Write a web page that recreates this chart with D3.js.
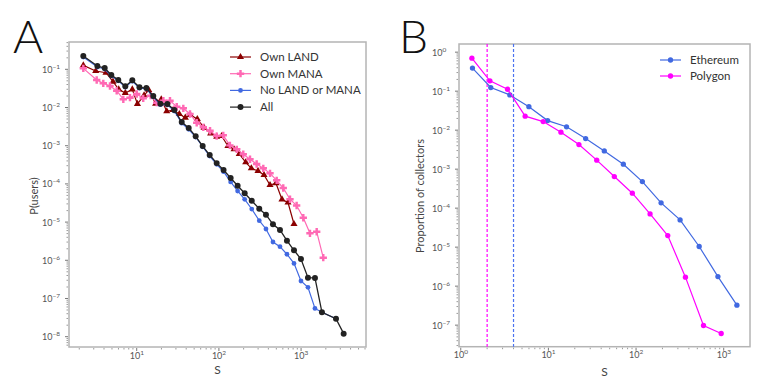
<!DOCTYPE html>
<meta charset="utf-8">
<style>
body {
  margin: 0;
  background: #fff;
  font-family: Lato, "Open Sans", sans-serif;
}
.frame {
  fill: none;
  stroke: #b4b4b4;
  stroke-width: 1.5px;
}
.lbl {
  fill: #555;
  font-size: 9px;
}
.legend text {
  fill: #333;
  font-size: 11.5px;
}
</style>
<body>
<script src="https://d3js.org/d3.v7.min.js"></script>
<script>

var width = 761,
    height = 382;

// panel A
var landS = [2.24,3.17,4.23,5.15,6.04,7.27,8.84,10.2,12.3,14.0,17.0,19.9,23.2,27.7,33.0,39.0,44.9,54.6,65.9,79.4,94.0,108,129,153,177,212,248,299,354,419,495,586,693,820];
var landP = [0.127,0.0902,0.0815,0.0473,0.0299,0.0240,0.0299,0.0124,0.0209,0.0287,0.01257,0.0164,0.00796,0.0086,0.00676,0.0054,0.00637,0.0050,0.00296,0.00211,0.00172,0.00179,9.8e-4,8.05e-4,6.07e-4,3.68e-4,2.56e-4,2.18e-4,1.71e-4,9.35e-5,1.04e-4,3.91e-5,3.26e-5,8.9e-6];

var manaS = [2.24,3.26,3.92,4.73,5.71,6.87,8.28,10.0,12.0,14.8,17.5,21.1,25.4,30.7,36.9,44.5,53.7,64.6,78.0,94.0,113,136,165,198,239,288,347,419,505,607,733,883,1064,1283,1549,1862];
var manaP = [0.106,0.0525,0.0430,0.0366,0.0275,0.0164,0.0181,0.0226,0.0174,0.0204,0.0134,0.0151,0.0151,0.0105,0.00953,0.00676,0.0040,0.00303,0.00247,0.00179,0.00187,0.00102,8.05e-4,5.96e-4,4.41e-4,3.32e-4,2.56e-4,1.89e-4,1.24e-4,7.8e-5,3.97e-5,2.72e-5,1.30e-5,5.09e-6,5.6e-6,1.17e-6];

var allS = [2.24,3.32,4.08,4.91,5.97,7.27,8.84,10.8,13.1,15.9,19.4,23.6,28.7,35.3,42.9,52.2,63.5,77.3,94.0,114,139,169,206,251,310,374,455,554,673,820,997,1213,1476,1795,2660,3298];
var allP = [0.223,0.122,0.108,0.0710,0.0525,0.0359,0.0515,0.0338,0.0324,0.0200,0.01257,0.01235,0.00860,0.00417,0.00290,0.00176,9.8e-4,5.7e-4,3.5e-4,2.31e-4,1.43e-4,8.97e-5,5.68e-5,3.63e-5,2.24e-5,1.56e-5,8.75e-6,6.21e-6,3.26e-6,1.83e-6,1.08e-6,3.5e-7,3.46e-7,4.35e-8,2.96e-8,1.2e-8];

var noneS = allS.slice(0, 35);
var noneP = [0.21,0.115,0.102,0.067,0.05,0.034,0.049,0.032,0.031,0.019,0.0119,0.0117,0.0081,0.0039,0.0027,0.00169,9.4e-4,5.37e-4,3.26e-4,2.09e-4,1.13e-4,6.52e-5,3.95e-5,2.20e-5,1.09e-5,6.6e-6,3.01e-6,2.27e-6,1.44e-6,8.3e-7,2.87e-7,1.96e-7,5.5e-8,4.35e-8,2.96e-8];

// panel B
var ethS = [1.36,2.2,3.63,5.99,9.8,16.1,26.6,43.4,71.6,118,193,318,525,859,1414];
var ethP = [0.39,0.124,0.080,0.040,0.0176,0.0122,0.0061,0.00294,0.00134,4.8e-4,1.37e-4,5.0e-5,1.04e-5,1.76e-6,3.26e-7];
var polyS = [1.34,2.15,3.42,5.43,8.72,13.9,22.3,35.6,56.5,90.7,144.5,230,366,588,936];
var polyP = [0.70,0.184,0.112,0.0229,0.0166,0.0089,0.00428,0.0017,6.46e-4,2.42e-4,7.1e-5,1.98e-5,1.7e-6,9.8e-8,6.1e-8];
var cutoffs = [{s: 2, c: "#ff00ff"}, {s: 4, c: "#4a72f0"}];

var svg = d3.select("body").append("svg")
    .attr("width", width)
    .attr("height", height);

function supLabel(g, v) {
  var e = Math.round(Math.log10(v));
  var t = g.append("text").attr("class", "lbl");
  t.append("tspan").text("10");
  t.append("tspan").attr("dy", -4).attr("font-size", "6.5px").text(e < 0 ? "\u2212" + (-e) : e);
  return t;
}

function minorTicks(dom) {
  var out = [];
  var lo = Math.floor(Math.log10(dom[0])), hi = Math.ceil(Math.log10(dom[1]));
  for (var k = lo; k <= hi; k++) {
    for (var m = 1; m < 10; m++) {
      var v = m * Math.pow(10, k);
      if (v >= dom[0] && v <= dom[1]) out.push({v: v, major: m == 1});
    }
  }
  return out;
}

function drawAxes(g, x, y, tickY, xlabelY) {
  var x0 = x.range()[0], x1 = x.range()[1], y0 = y.range()[0], y1 = y.range()[1];
  var xt = g.append("g");
  minorTicks(x.domain()).forEach(function(d){
    xt.append("line").attr("x1", x(d.v)).attr("x2", x(d.v))
      .attr("y1", y0 + 1).attr("y2", y0 + (d.major ? 4 : 2.5))
      .attr("stroke", "#555").attr("stroke-width", d.major ? 0.8 : 0.6);
    if (d.major) {
      supLabel(xt, d.v).attr("x", x(d.v) - 7).attr("y", tickY);
    }
  });
  var yt = g.append("g");
  minorTicks(y.domain()).forEach(function(d){
    yt.append("line").attr("y1", y(d.v)).attr("y2", y(d.v))
      .attr("x1", x0 - 1).attr("x2", x0 - (d.major ? 4 : 2.5))
      .attr("stroke", "#555").attr("stroke-width", d.major ? 0.8 : 0.6);
    if (d.major) {
      supLabel(yt, d.v).attr("x", x0 - 27).attr("y", y(d.v) + 3.5);
    }
  });
  g.append("rect").attr("class", "frame")
    .attr("x", x0).attr("y", y1).attr("width", x1 - x0).attr("height", y0 - y1);
  g.append("text").attr("x", (x0 + x1) / 2).attr("y", xlabelY)
    .attr("text-anchor", "middle").attr("fill", "#444").attr("font-size", "12px").text("S");
}

function series(g, x, y, xs, ys, color, sym, size, lw) {
  var pts = xs.map(function(s, i){ return [s, ys[i]]; });
  g.append("path").datum(pts)
    .attr("fill", "none").attr("stroke", color).attr("stroke-width", lw)
    .attr("d", d3.line().x(function(d){ return x(d[0]); }).y(function(d){ return y(d[1]); }));
  g.selectAll(null).data(pts).enter().append("path")
    .attr("transform", function(d){ return "translate(" + x(d[0]) + "," + y(d[1]) + ")"; })
    .attr("d", d3.symbol().type(sym).size(size))
    .attr("fill", color);
}

function legend(g, items, lx, ly, dy) {
  var lg = g.append("g").attr("class", "legend");
  items.forEach(function(it, i){
    var yy = ly + i * dy;
    lg.append("line").attr("x1", lx).attr("x2", lx + 21).attr("y1", yy).attr("y2", yy)
      .attr("stroke", it.c).attr("stroke-width", 1.2);
    lg.append("path").attr("transform", "translate(" + (lx + 10.5) + "," + yy + ")")
      .attr("d", d3.symbol().type(it.sym).size(it.size)).attr("fill", it.c);
    lg.append("text").attr("x", lx + 30).attr("y", yy + 4).text(it.name);
  });
}

// ---- A ----
var xA = d3.scaleLog().domain([1.5, 6166]).range([69, 366]);
var yA = d3.scaleLog().domain([5.37e-9, 0.519]).range([347, 42]);
var gA = svg.append("g");
gA.append("text").attr("x", 13).attr("y", 53).attr("font-size", "46px").attr("font-weight", 300).attr("fill", "#111").text("A");
drawAxes(gA, xA, yA, 359, 374);
gA.append("text").attr("transform", "translate(38,196) rotate(-90)")
  .attr("text-anchor", "middle").attr("fill", "#444").attr("font-size", "11px").text("P(users)");

var crossSym = d3.symbolCross;
series(gA, xA, yA, landS, landP, "#8b0000", d3.symbolTriangle, 22, 1.2);
series(gA, xA, yA, manaS, manaP, "#ff69b4", crossSym, 30, 1.2);
series(gA, xA, yA, noneS, noneP, "#4169e1", d3.symbolCircle, 18, 1.2);
series(gA, xA, yA, allS, allP, "#222", d3.symbolCircle, 28, 1.3);

legend(gA, [
  {name: "Own LAND", c: "#8b0000", sym: d3.symbolTriangle, size: 22},
  {name: "Own MANA", c: "#ff69b4", sym: crossSym, size: 30},
  {name: "No LAND or MANA", c: "#4169e1", sym: d3.symbolCircle, size: 18},
  {name: "All", c: "#222", sym: d3.symbolCircle, size: 28}
], 230, 57, 16.7);

// ---- B ----
var xB = d3.scaleLog().domain([0.955, 1995]).range([459, 750]);
var yB = d3.scaleLog().domain([2.8e-8, 1.62]).range([346.7, 44]);
var gB = svg.append("g");
gB.append("text").attr("x", 399).attr("y", 53).attr("font-size", "46px").attr("font-weight", 300).attr("fill", "#111").text("B");
drawAxes(gB, xB, yB, 358, 376);
gB.append("text").attr("transform", "translate(424,196) rotate(-90)")
  .attr("text-anchor", "middle").attr("fill", "#444").attr("font-size", "11px").text("Proportion of collectors");

cutoffs.forEach(function(c){
  gB.append("line").attr("x1", xB(c.s)).attr("x2", xB(c.s))
    .attr("y1", yB.range()[1]).attr("y2", yB.range()[0])
    .attr("stroke", c.c).attr("stroke-width", 1.2).attr("stroke-dasharray", "3,2");
});

series(gB, xB, yB, ethS, ethP, "#4169e1", d3.symbolCircle, 22, 1.2);
series(gB, xB, yB, polyS, polyP, "#ff00ff", d3.symbolCircle, 22, 1.2);

legend(gB, [
  {name: "Ethereum", c: "#4169e1", sym: d3.symbolCircle, size: 22},
  {name: "Polygon", c: "#ff00ff", sym: d3.symbolCircle, size: 22}
], 660, 60, 16);

</script>
